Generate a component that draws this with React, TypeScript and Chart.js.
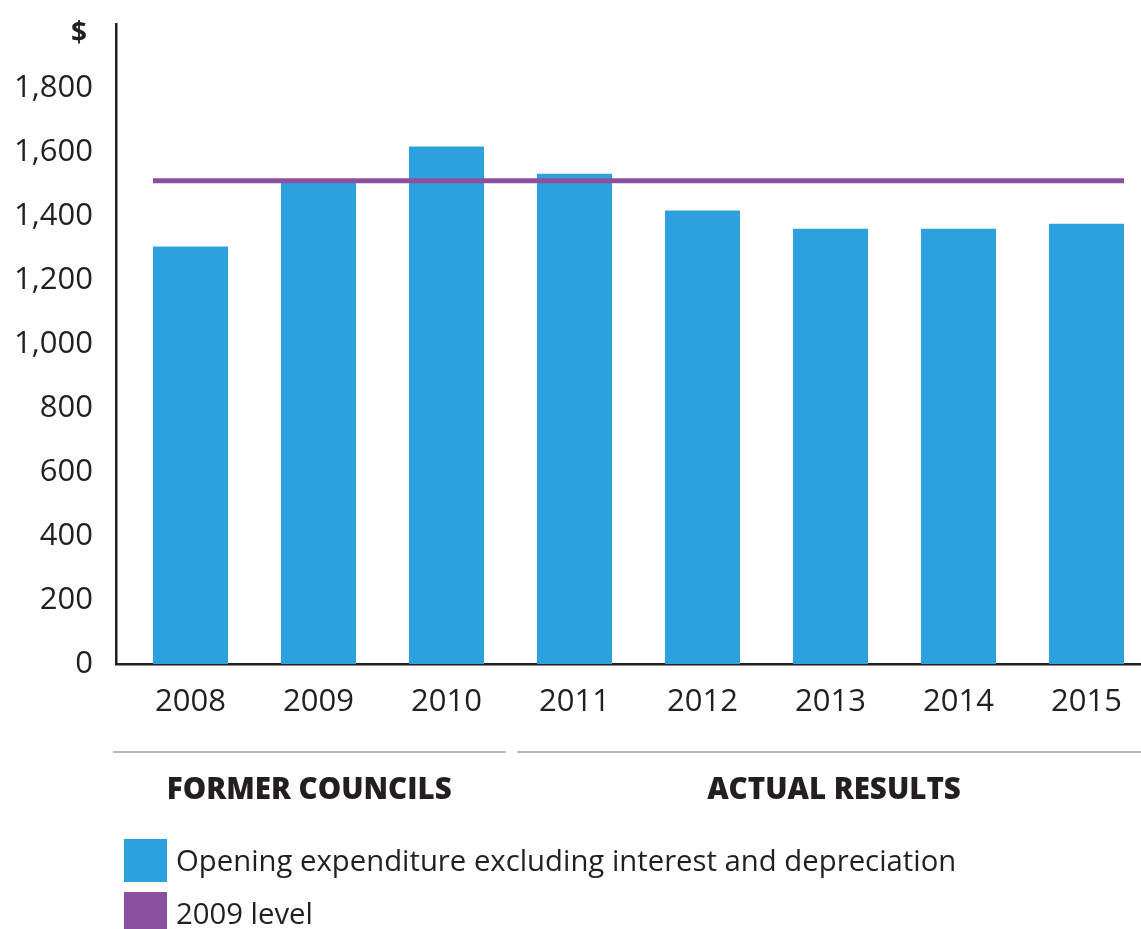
import React, { useEffect, useRef } from "react";
import { Chart, registerables } from "chart.js";

Chart.register(...registerables);

const YEARS = ["2008", "2009", "2010", "2011", "2012", "2013", "2014", "2015"];
const EXPENDITURE = [1305, 1510, 1617, 1532, 1417, 1360, 1360, 1376];
const LEVEL_2009 = 1510;
const Y_MAX = 2000;
const Y_STEP = 200;
const GROUPS = [
  { label: "FORMER COUNCILS", count: 3 },
  { label: "ACTUAL RESULTS", count: 5 },
];
const SERIES_LABELS = ["Opening expenditure excluding interest and depreciation", "2009 level"];

const BLUE = "#2ca1dc";
const PURPLE = "#8c50a0";
const INK = "#231f20";
const FONT = "'Open Sans', 'Noto Sans', sans-serif";
const BAR_PCT = 0.586;

const W = 1141;
const H = 929;

const overlay = {
  id: "overlay",
  afterDraw(chart: any) {
    const { ctx, chartArea, scales } = chart;
    const xs = scales.x;
    const ys = scales.y;
    ctx.save();
    // "$" unit label
    ctx.fillStyle = INK;
    ctx.font = `bold 28px ${FONT}`;
    ctx.textAlign = "center";
    ctx.textBaseline = "middle";
    ctx.fillText("$", ys.right - 37, ys.getPixelForValue(Y_MAX) + 10);

    // group separators + labels
    const lineY = chartArea.bottom + 88;
    const labelY = chartArea.bottom + 127;
    let start = 0;
    GROUPS.forEach((g, gi) => {
      const endIdx = start + g.count - 1;
      const x0 = gi === 0 ? chartArea.left - 3 : xs.getPixelForValue(start - 0.5) + 6.5;
      const x1 = gi === GROUPS.length - 1 ? W : xs.getPixelForValue(endIdx + 0.5) - 5;
      ctx.strokeStyle = "#9d9d9d";
      ctx.lineWidth = 1.5;
      ctx.beginPath();
      ctx.moveTo(x0, lineY);
      ctx.lineTo(x1, lineY);
      ctx.stroke();
      ctx.fillStyle = INK;
      ctx.font = `800 29.5px ${FONT}`;
      ctx.textAlign = "center";
      ctx.textBaseline = "middle";
      ctx.fillText(g.label, (x0 + x1) / 2 + (gi === 0 ? 0 : 5), labelY);
      start += g.count;
    });

    // legend
    const colors = [BLUE, PURPLE];
    SERIES_LABELS.forEach((lab, i) => {
      const by = 839 + i * 53;
      ctx.fillStyle = colors[i];
      ctx.fillRect(124, by, 43, 43);
      ctx.fillStyle = INK;
      ctx.font = `29.3px ${FONT}`;
      ctx.textAlign = "left";
      ctx.textBaseline = "middle";
      ctx.fillText(lab, 176, by + 24);
    });
    ctx.restore();
  },
};

export default function App() {
  const ref = useRef<HTMLCanvasElement>(null);
  useEffect(() => {
    document.body.style.margin = "0";
    document.body.style.overflow = "hidden";
    const n = YEARS.length;
    const chart = new Chart(ref.current!, {
      type: "bar",
      data: {
        datasets: [
          {
            type: "line",
            label: SERIES_LABELS[1],
            data: [
              { x: -BAR_PCT / 2, y: LEVEL_2009 },
              { x: n - 1 + BAR_PCT / 2, y: LEVEL_2009 },
            ],
            borderColor: PURPLE,
            borderWidth: 5,
            pointRadius: 0,
            order: 0,
          } as any,
          {
            type: "bar",
            label: SERIES_LABELS[0],
            data: EXPENDITURE.map((v, i) => ({ x: i, y: v })),
            backgroundColor: BLUE,
            barPercentage: BAR_PCT,
            categoryPercentage: 1,
            order: 1,
          },
        ],
      },
      options: {
        animation: false,
        responsive: false,
        devicePixelRatio: 1,
        layout: { padding: { top: 24, left: 0, right: 0, bottom: 0 } },
        plugins: { legend: { display: false }, tooltip: { enabled: false } },
        scales: {
          x: {
            type: "linear",
            offset: false,
            min: -0.582,
            max: 7.426,
            grid: { display: false, drawTicks: false },
            border: { display: true, color: INK, width: 2.5 },
            ticks: {
              stepSize: 1,
              autoSkip: false,
              includeBounds: false,
              maxRotation: 0,
              padding: 20,
              color: INK,
              font: { family: FONT, size: 31 },
              callback: (v: any) => (Number.isInteger(v) && YEARS[v] ? YEARS[v] : ""),
            },
            afterFit: (s: any) => {
              s.height = 265;
              s.paddingLeft = 0;
              s.paddingRight = 0;
            },
          },
          y: {
            min: 0,
            max: Y_MAX,
            grid: { display: false, drawTicks: false },
            border: { display: true, color: INK, width: 2.5 },
            ticks: {
              stepSize: Y_STEP,
              padding: 23,
              color: INK,
              font: { family: FONT, size: 31 },
              callback: (v: any) => (v === Y_MAX ? "" : Number(v).toLocaleString("en-US")),
            },
            afterFit: (s: any) => {
              s.width = 116;
              s.paddingTop = 0;
              s.paddingBottom = 0;
            },
          },
        },
      },
      plugins: [overlay],
    });
    return () => chart.destroy();
  }, []);
  return <canvas ref={ref} width={W} height={H} style={{ display: "block" }} />;
}
